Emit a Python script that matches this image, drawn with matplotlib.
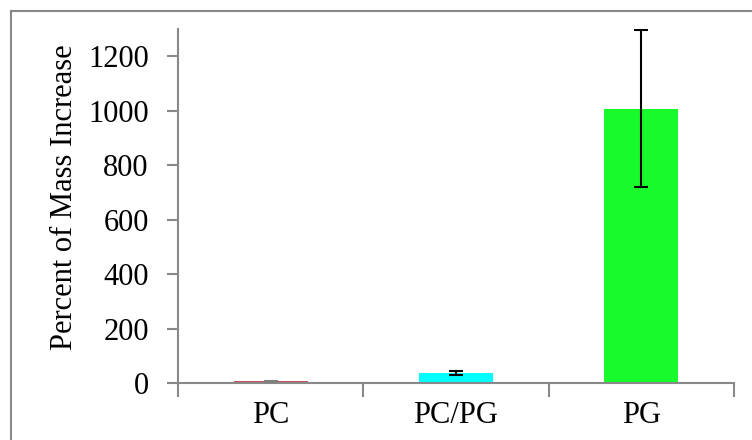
import matplotlib
matplotlib.use("Agg")
import matplotlib.pyplot as plt
from matplotlib.lines import Line2D

categories = ["PC", "PC/PG", "PG"]
values = [6, 36, 1008]
errors = [2, 8, 288]
colors = ["#c0505a", "#00ffff", "#17fa2b"]
err_colors = ["#7f7f7f", "#000000", "#000000"]
yticks = [0, 200, 400, 600, 800, 1000, 1200]

plt.rcParams['font.family'] = ['Liberation Serif', 'DejaVu Serif']
FS = 22
W, H = 752, 440
fig = plt.figure(figsize=(W/100, H/100), dpi=100)
ax = fig.add_axes([178/W, (H-383)/H, (734-178)/W, (383-29)/H])

x = list(range(len(categories)))
ax.bar(x, values, width=0.4, color=colors, zorder=2)
for xi, v, e, ec in zip(x, values, errors, err_colors):
    ax.errorbar(xi, v, yerr=e, fmt='none', ecolor=ec, elinewidth=1.5,
                capsize=4.7, capthick=1.5, zorder=3)

ax.set_xlim(-0.5, 2.5)
ax.set_ylim(0, 1300)
ax.set_yticks(yticks)
ax.set_yticklabels([str(t) for t in yticks], fontsize=FS)
ax.set_xticks([-0.5, 0.5, 1.5, 2.5])
ax.set_xticklabels([])
ax.set_xticks(x, minor=True)
ax.set_xticklabels(categories, minor=True, fontsize=FS)
ax.tick_params(axis='x', which='minor', length=0, pad=13)
ax.tick_params(axis='x', which='major', length=10, width=1.5, color='#898989', direction='out')
ax.tick_params(axis='y', length=8, width=1.5, color='#898989', direction='out', pad=13)
for s in ['top', 'right']:
    ax.spines[s].set_visible(False)
for s in ['left', 'bottom']:
    ax.spines[s].set_color('#898989')
    ax.spines[s].set_linewidth(1.5)
fig.text(65/W, 1-197.5/H, "Percent of Mass Increase", fontsize=FS,
         rotation=90, ha='center', va='center')

# outer chart border
fig.add_artist(Line2D([11/W, 1.0], [1-11/H, 1-11/H], transform=fig.transFigure, color='#898989', lw=1.5))
fig.add_artist(Line2D([11/W, 11/W], [0.0, 1-11/H], transform=fig.transFigure, color='#898989', lw=1.5))

fig.savefig("out.png", dpi=100)
